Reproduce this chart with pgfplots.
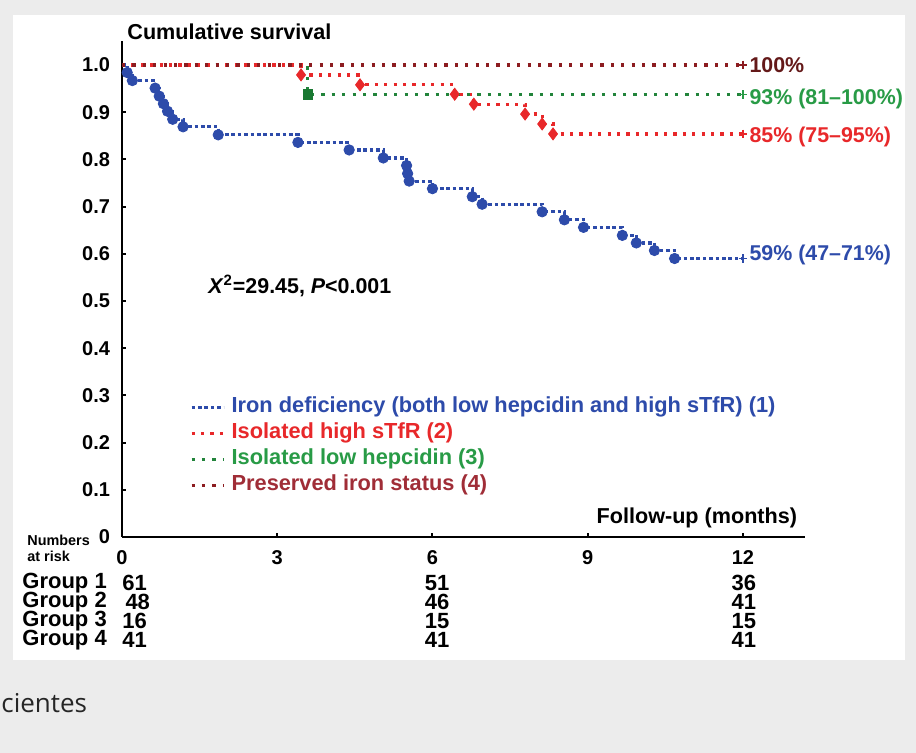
\documentclass[border=0pt]{standalone}
\usepackage{pgfplots}
\pgfplotsset{compat=1.18}
\usepackage{fontspec}
\setmainfont{Liberation Sans}
\newfontfamily\opensans{Open Sans}
\definecolor{cblue}{RGB}{45,75,170}
\definecolor{cred}{RGB}{232,40,42}
\definecolor{cgreen}{RGB}{40,155,70}
\definecolor{cdgreen}{RGB}{25,120,50}
\definecolor{cbrown}{RGB}{140,28,32}
\definecolor{cbrownt}{RGB}{100,25,25}
\definecolor{cbrownleg}{RGB}{160,45,55}
\definecolor{bgc}{RGB}{236,236,236}
\begin{document}
\begin{tikzpicture}
\fill[bgc] (0,0) rectangle (458pt,376.5pt);
\fill[white] (6.5pt,46.5pt) rectangle (452.5pt,369pt);
\node[anchor=west,inner sep=0pt,font=\opensans\fontsize{13}{15}\selectfont,text=black!85] at (0.5pt,25pt) {cientes};
\begin{axis}[
 at={(61pt,108pt)}, anchor=south west, scale only axis,
 width=341.5pt, height=247.8pt,
 xmin=0,xmax=13.2,ymin=0,ymax=1.05,
 axis lines=left, axis line style={line width=1.4pt,-},
 clip=false,
 xtick={0,3,6,9,12},
 ytick={0,0.1,0.2,0.3,0.4,0.5,0.6,0.7,0.8,0.9,1.0},
 yticklabels={0,0.1,0.2,0.3,0.4,0.5,0.6,0.7,0.8,0.9,1.0},
 tick align=inside, major tick length=2pt, tick style={black,line width=1pt},
 /pgf/number format/assume math mode=true,
 ticklabel style={font=\fontsize{10}{12}\selectfont\bfseries},
 yticklabel style={xshift=-2.5pt},
 xticklabel style={yshift=-3pt},
 legend cell align=left,
 legend image code/.code={\draw[#1] (0pt,0pt) -- (16pt,0pt); \path[draw=none,fill=none] (19.5pt,0pt) circle (0.01pt);},
 legend style={at={(axis cs:1.314,0.298)}, anchor=north west, draw=none, fill=none,
   font=\fontsize{10.9}{12}\selectfont\bfseries, inner sep=0pt, outer sep=0pt,
   row sep=2.2pt,
   nodes={text height=7.6pt, text depth=2.2pt, inner sep=0.5pt}},
]
% Group 1 (blue)
\addplot[cblue, line width=1.6pt, dash pattern=on 1.8pt off 1.4pt, const plot] coordinates {
(0,1.0) (0.10,0.984) (0.20,0.967) (0.64,0.951) (0.72,0.934) (0.80,0.918) (0.88,0.902)
(0.98,0.885) (1.18,0.869) (1.86,0.852) (3.40,0.836) (4.39,0.820) (5.05,0.803)
(5.50,0.787) (5.52,0.770) (5.55,0.754) (6.00,0.738) (6.77,0.721) (6.96,0.705)
(8.12,0.689) (8.55,0.672) (8.92,0.656) (9.67,0.639) (9.94,0.623) (10.29,0.607)
(10.68,0.590) (12,0.590)};
\addlegendentry{\textcolor{cblue}{Iron deficiency (both low hepcidin and high sTfR) (1)}}
% Group 2 (red)
\addplot[cred, line width=1.6pt, dash pattern=on 1.6pt off 3.1pt, const plot] coordinates {
(0,1.0) (3.46,0.979) (4.60,0.958) (6.43,0.938) (6.80,0.917) (7.79,0.896) (8.12,0.875)
(8.33,0.854) (12,0.854)};
\addlegendentry{\textcolor{cred}{Isolated high sTfR (2)}}
% Group 3 (green)
\addplot[cgreen!85!black, line width=1.6pt, dash pattern=on 1.6pt off 3.6pt, const plot] coordinates {
(0,1.0) (3.59,0.9375) (12,0.9375)};
\addlegendentry{\textcolor{cgreen}{Isolated low hepcidin (3)}}
% Group 4 (brown)
\addplot[cbrown, line width=1.6pt, dash pattern=on 1.6pt off 3.6pt, const plot] coordinates {
(0,1.0) (12,1.0)};
\addlegendentry{\textcolor{cbrownleg}{Preserved iron status (4)}}
% event markers
\addplot[only marks, mark=*, mark size=2.6pt, cblue, forget plot] coordinates {
(0.10,0.984) (0.20,0.967) (0.64,0.951) (0.72,0.934) (0.80,0.918) (0.88,0.902)
(0.98,0.885) (1.18,0.869) (1.86,0.852) (3.40,0.836) (4.39,0.820) (5.05,0.803)
(5.50,0.787) (5.52,0.770) (5.55,0.754) (6.00,0.738) (6.77,0.721) (6.96,0.705)
(8.12,0.689) (8.55,0.672) (8.92,0.656) (9.67,0.639) (9.94,0.623) (10.29,0.607)
(10.68,0.590)};
\addplot[only marks, mark=diamond*, mark size=3pt, cred, forget plot] coordinates {
(3.46,0.979) (4.60,0.958) (6.43,0.938) (6.80,0.917) (7.79,0.896) (8.12,0.875) (8.33,0.854)};
\addplot[only marks, mark=square*, mark size=2.4pt, cdgreen, forget plot] coordinates {
(3.59,0.9375)};
% censor marks
\addplot[only marks, mark=+, mark size=2.2pt, line width=0.6pt, cblue, forget plot] coordinates {(12,0.590)};
\addplot[only marks, mark=+, mark size=2.2pt, line width=0.6pt, cred, forget plot] coordinates {(12,0.854)};
\addplot[only marks, mark=+, mark size=2.2pt, line width=0.6pt, cgreen, forget plot] coordinates {(12,0.9375)};
\addplot[only marks, mark=+, mark size=2.2pt, line width=0.6pt, cbrown, forget plot] coordinates {(12,1.0)};
% end labels
\node[anchor=west,inner sep=0pt,text=cbrownt,font=\fontsize{10.7}{12}\selectfont\bfseries] at (axis cs:12.12,1.0) {100\%};
\node[anchor=west,inner sep=0pt,text=cgreen,font=\fontsize{10.7}{12}\selectfont\bfseries] at (axis cs:12.12,0.928) {93\% (81--100\%)};
\node[anchor=west,inner sep=0pt,text=cred,font=\fontsize{10.7}{12}\selectfont\bfseries] at (axis cs:12.12,0.848) {85\% (75--95\%)};
\node[anchor=west,inner sep=0pt,text=cblue,font=\fontsize{10.7}{12}\selectfont\bfseries] at (axis cs:12.12,0.597) {59\% (47--71\%)};
% titles
\node[anchor=west,inner sep=0pt,font=\fontsize{10.8}{12}\selectfont\bfseries] at (axis cs:0.097,1.07) {Cumulative survival};
\node[anchor=center,inner sep=0pt,font=\fontsize{10.8}{12}\selectfont\bfseries] at (axis cs:11.11,0.040) {Follow-up (months)};
\node[anchor=west,inner sep=0pt,font=\fontsize{10.7}{12}\selectfont\bfseries] at (axis cs:1.66,0.532) {\textit{X}\textsuperscript{2}=29.45, \textit{P}<0.001};
% numbers at risk
\node[anchor=west,inner sep=0pt,font=\fontsize{7.2}{8}\selectfont\bfseries] at (axis cs:-1.836,-0.0064) {Numbers};
\node[anchor=west,inner sep=0pt,font=\fontsize{7.2}{8}\selectfont\bfseries] at (axis cs:-1.836,-0.042) {at risk};
\begin{scope}[every node/.style={inner sep=0pt,font=\fontsize{11}{12}\selectfont\bfseries}]
\node[anchor=west] at (axis cs:-1.932,-0.0975) {Group 1};
\node[anchor=west] at (axis cs:-1.932,-0.1377) {Group 2};
\node[anchor=west] at (axis cs:-1.932,-0.178) {Group 3};
\node[anchor=west] at (axis cs:-1.932,-0.218) {Group 4};
\node[anchor=west] at (axis cs:0,-0.0975) {61};
\node[anchor=west] at (axis cs:0.06,-0.1377) {48};
\node[anchor=west] at (axis cs:0,-0.178) {16};
\node[anchor=west] at (axis cs:0,-0.218) {41};
\node at (axis cs:6.09,-0.0975) {51};
\node at (axis cs:6.09,-0.1377) {46};
\node at (axis cs:6.09,-0.178) {15};
\node at (axis cs:6.09,-0.218) {41};
\node at (axis cs:12.02,-0.0975) {36};
\node at (axis cs:12.02,-0.1377) {41};
\node at (axis cs:12.02,-0.178) {15};
\node at (axis cs:12.02,-0.218) {41};
\end{scope}
\end{axis}
\end{tikzpicture}
\end{document}
